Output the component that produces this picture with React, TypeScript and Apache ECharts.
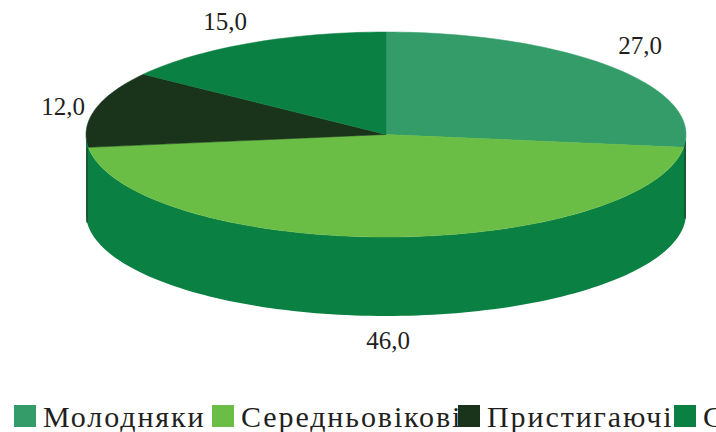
import React, { useEffect, useRef } from "react";
import * as echarts from "echarts";

const categories = ["Молодняки", "Середньовікові", "Пристигаючі", "Стиглі"];
const values = [27.0, 46.0, 12.0, 15.0];
const valueLabels = ["27,0", "46,0", "12,0", "15,0"];
const colors = ["#339c68", "#6abd45", "#19341a", "#0a8042"];
const sideColor = "#0a8042";
const edgeColor = "#1d4a2c";
const labelPositions = [[640, 45], [388, 340], [63, 106], [225, 21]];
const legendLefts = [14, 212, 458, 674];

const cx = 386;
const cy = 134.5;
const rx = 300;
const ry = 102.5;
const depth = 79;
const total = values.reduce((a, b) => a + b, 0);

function pt(deg: number, yOffset = 0): number[] {
  const t = (deg * Math.PI) / 180;
  return [cx + rx * Math.sin(t), cy + yOffset - ry * Math.cos(t)];
}

function arcPoints(from: number, to: number, yOffset = 0): number[][] {
  const out: number[][] = [];
  const n = Math.max(8, Math.ceil(Math.abs(to - from) / 1.5));
  for (let i = 0; i <= n; i++) out.push(pt(from + ((to - from) * i) / n, yOffset));
  return out;
}

export default function App() {
  const ref = useRef<HTMLDivElement>(null);
  useEffect(() => {
    const chart = echarts.init(ref.current!, undefined, { renderer: "svg" });
    let cum = 0;
    const sliceSeries = categories.map((name, i) => {
      const start = cum;
      cum += values[i];
      return {
        type: "custom",
        name,
        z: 3,
        silent: true,
        coordinateSystem: "none",
        itemStyle: { color: colors[i] },
        data: [[values[i], start, i]],
        renderItem: (_p: any, api: any) => {
          const from = (api.value(1) / total) * 360;
          const to = ((api.value(1) + api.value(0)) / total) * 360;
          const idx = api.value(2);
          return {
            type: "group",
            children: [
              {
                type: "polygon",
                shape: { points: [[cx, cy], ...arcPoints(from, to)] },
                style: { fill: colors[idx], stroke: colors[idx], lineWidth: 0.5 },
              },
              {
                type: "text",
                style: {
                  x: labelPositions[idx][0],
                  y: labelPositions[idx][1],
                  text: valueLabels[idx],
                  fill: "#231f20",
                  font: '25px "Liberation Serif"',
                  align: "center",
                  verticalAlign: "middle",
                },
              },
            ],
          };
        },
      };
    });
    const sideSeries = {
      type: "custom",
      name: "side",
      z: 2,
      silent: true,
      coordinateSystem: "none",
      data: [[0]],
      renderItem: () => ({
        type: "group",
        children: [
          {
            type: "polygon",
            shape: { points: [...arcPoints(90, 270), ...arcPoints(270, 90, depth)] },
            style: { fill: sideColor },
          },
          {
            type: "line",
            shape: { x1: cx - rx + 1, y1: cy + 13, x2: cx - rx + 1, y2: cy + depth + 9 },
            style: { stroke: edgeColor, lineWidth: 1.5 },
          },
          {
            type: "line",
            shape: { x1: cx + rx - 1, y1: cy + 6, x2: cx + rx - 1, y2: cy + depth + 5 },
            style: { stroke: edgeColor, lineWidth: 1.5 },
          },
        ],
      }),
    };
    chart.setOption({
      animation: false,
      backgroundColor: "#ffffff",
      legend: categories.map((name, i) => ({
        data: [name],
        left: legendLefts[i],
        top: 401,
        padding: 0,
        itemWidth: 22,
        itemHeight: 22,
        itemGap: 0,
        icon: "rect",
        selectedMode: false,
        textStyle: { fontFamily: "Liberation Serif", fontSize: 30, color: "#231f20", padding: [0, 0, 0, 2] },
      })),
      series: [sideSeries, ...sliceSeries],
    });
    ref.current!.querySelectorAll("text").forEach((t) => {
      if (categories.includes((t.textContent || "").trim())) t.setAttribute("letter-spacing", "1.9");
    });
    return () => chart.dispose();
  }, []);
  return <div ref={ref} style={{ position: "fixed", left: 0, top: 0, width: 716, height: 432 }} />;
}
